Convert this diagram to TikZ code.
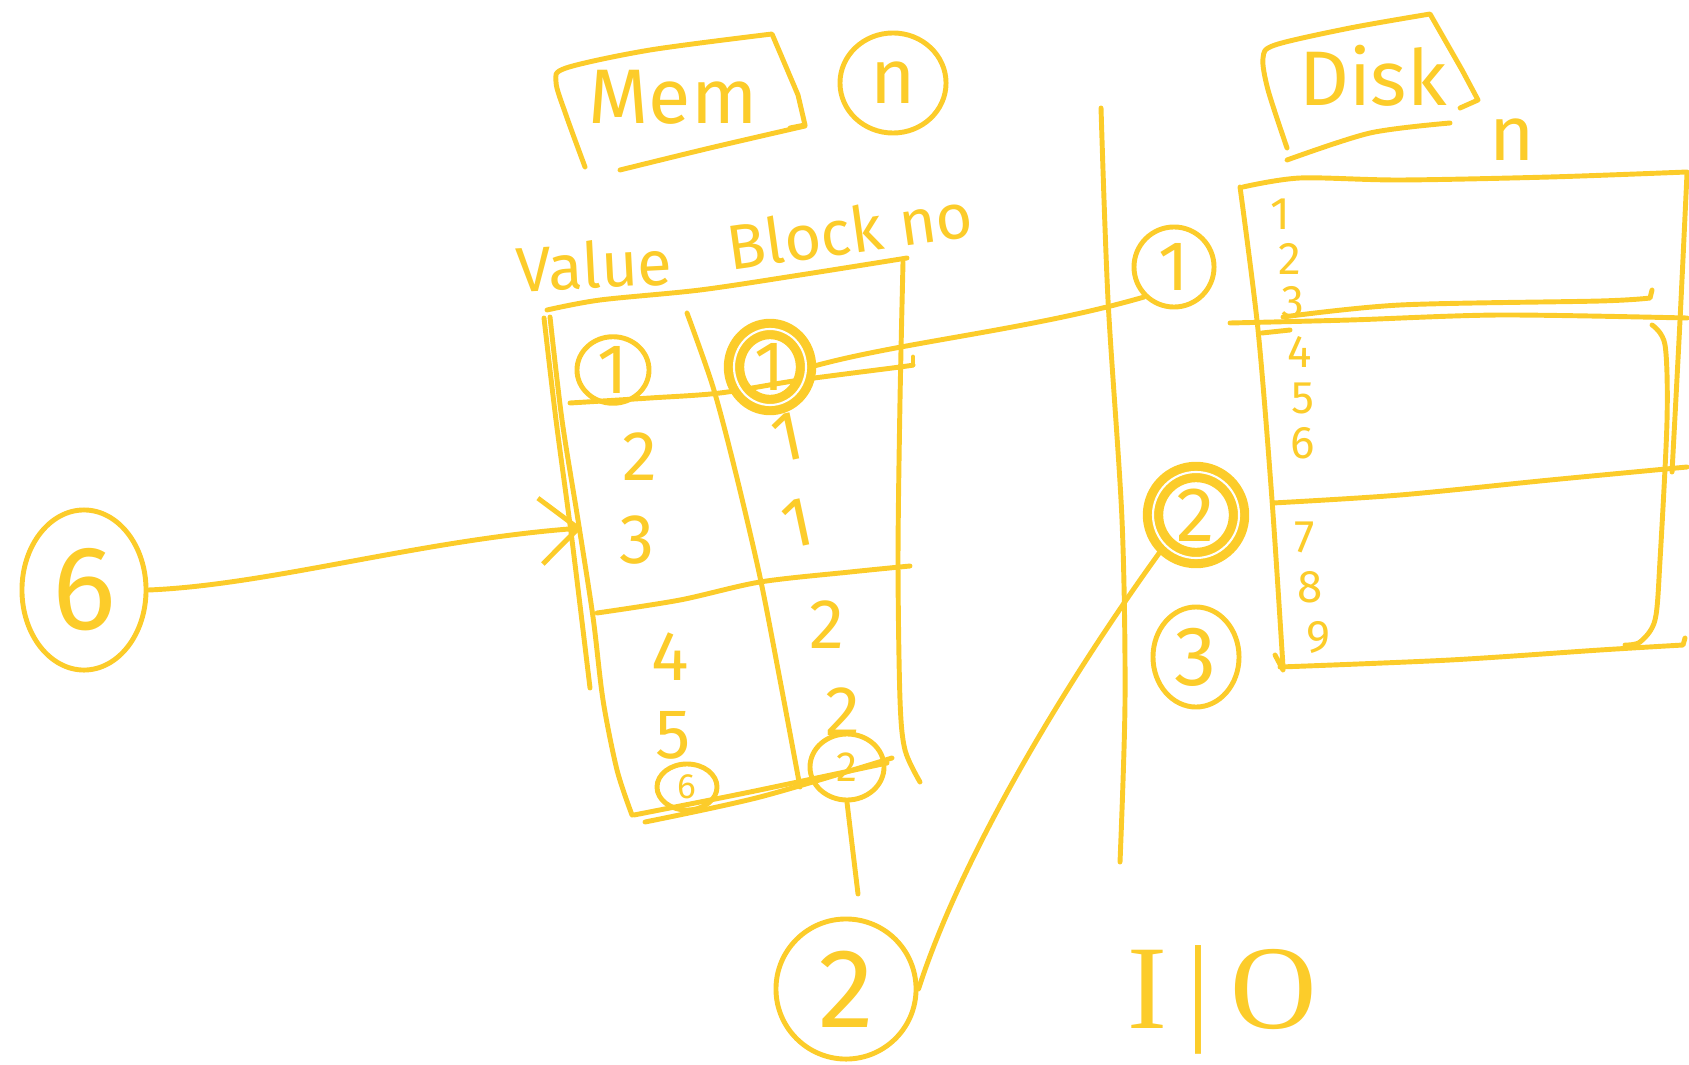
\documentclass[tikz,border=0pt]{standalone}
\usepackage{fontspec}
\setmainfont{Fira Sans}
\newfontfamily\serifio{Liberation Serif}
\usetikzlibrary{shapes.geometric,arrows.meta}
\definecolor{hl}{RGB}{252,204,42}
\begin{document}
\begin{tikzpicture}[x=0.01cm,y=-0.01cm, line cap=round, line join=round,
  ink/.style={draw=hl, line width=1.4pt},
  lbl/.style={text=hl, inner sep=0pt},
  ring/.style={ellipse, draw=hl, line width=1.4pt, inner sep=0pt, text=hl},
  bold ring/.style={ring, line width=2.6pt, double=white, double distance=0.6pt}]
\useasboundingbox (0,0) rectangle (1689,1064);

% ---- Mem label box
\draw[ink] plot[smooth] coordinates {(585,167)(566,115)(556,82)(566,68)(650,50)(772,34)} -- (798,95) -- (805,125) -- (790,128);
\draw[ink] plot[smooth] coordinates {(620,170)(710,148)(805,126)};
\node[lbl, font=\fontsize{22}{24}\selectfont] (mem) at (673,97) {Mem};
\node[ring, minimum width=1.06cm, minimum height=1.0cm, font=\fontsize{22}{24}\selectfont] (nc) at (893,83) {n};

% ---- Disk label box
\draw[ink] plot[smooth] coordinates {(1287,148)(1268,90)(1263,58)(1275,45)(1350,28)(1430,14)} -- (1462,70) -- (1478,100) -- (1460,108);
\draw[ink] plot[smooth] coordinates {(1287,160)(1370,133)(1450,123)};
\node[lbl, font=\fontsize{22}{24}\selectfont] (disk) at (1373,76) {Disk};
\node[lbl, font=\fontsize{22}{24}\selectfont] (dn) at (1512,140) {n};

% ---- column headers
\node[lbl, font=\fontsize{18}{20}\selectfont] (val) at (594,265) {\rotatebox{3}{Value}};
\node[lbl, font=\fontsize{18}{20}\selectfont] (blk) at (850,230) {\rotatebox{8}{Block no}};

% ---- Mem table
\draw[ink] plot[smooth] coordinates {(547,310)(600,300)(700,290)(800,275)(907,258)};
\draw[ink] plot[smooth] coordinates {(550,317)(562,420)(578,520)(593,617)(603,700)(617,770)(632,815)};
\draw[ink] plot[smooth] coordinates {(544,318)(556,420)(572,540)(590,688)};
\draw[ink] plot[smooth] coordinates {(634,815)(750,792)(887,763)};
\draw[ink] plot[smooth] coordinates {(645,822)(760,797)(892,758)};
\draw[ink] plot[smooth] coordinates {(903,262)(900,400)(898,560)(900,700)(905,750)(920,782)};
\draw[ink] plot[smooth] coordinates {(687,313)(713,387)(735,470)(760,577)(780,680)(800,787)};
\draw[ink] plot[smooth] coordinates {(570,403)(650,398)(720,393)(800,380)(900,367)(913,365)};
\draw[ink] (913,365) -- (913,357);
\draw[ink] plot[smooth] coordinates {(597,613)(680,600)(760,582)(850,572)(910,566)};

\node[ring, minimum width=0.72cm, minimum height=0.66cm, font=\fontsize{20}{22}\selectfont] (mc1) at (613,370) {1};
\node[bold ring, minimum width=0.72cm, minimum height=0.76cm, font=\fontsize{20}{22}\selectfont] (mb1) at (770,367) {1};
\node[lbl, font=\fontsize{20}{22}\selectfont] (v2) at (640,457) {2};
\node[lbl, font=\fontsize{20}{22}\selectfont] (v3) at (637,540) {3};
\node[lbl, font=\fontsize{20}{22}\selectfont] (b2) at (787,437) {\rotatebox{12}{1}};
\node[lbl, font=\fontsize{20}{22}\selectfont] (b3) at (797,523) {\rotatebox{12}{1}};
\node[lbl, font=\fontsize{20}{22}\selectfont] (v4) at (670,657) {4};
\node[lbl, font=\fontsize{20}{22}\selectfont] (b4) at (827,625) {2};
\node[lbl, font=\fontsize{20}{22}\selectfont] (v5) at (673,735) {5};
\node[lbl, font=\fontsize{20}{22}\selectfont] (b5) at (843,712) {2};
\node[ring, minimum width=0.6cm, minimum height=0.46cm, font=\fontsize{10}{12}\selectfont] (mc6) at (687,787) {6};
\node[ring, minimum width=0.74cm, minimum height=0.66cm, font=\fontsize{12}{14}\selectfont] (mc2) at (847,767) {2};

% ---- request 6
\node[ring, minimum width=1.24cm, minimum height=1.6cm, font=\fontsize{34}{36}\selectfont] (c6) at (84,590) {6};
\coordinate (tip) at (582,528);
\draw[ink, -{Straight Barb[length=0.38cm, width=0.66cm, line width=1.4pt]}] (c6.east) .. controls (270,585) and (420,540) .. (tip);

% ---- divider
\draw[ink] plot[smooth] coordinates {(1101,108)(1108,300)(1122,520)(1125,700)(1120,862)};

% ---- I/O circles
\node[ring, minimum width=0.8cm, minimum height=0.8cm, font=\fontsize{20}{22}\selectfont] (d1) at (1174,267) {1};
\node[bold ring, minimum width=0.86cm, minimum height=0.86cm, font=\fontsize{22}{24}\selectfont] (d2) at (1196,515) {2};
\node[ring, minimum width=0.86cm, minimum height=1.0cm, font=\fontsize{24}{26}\selectfont] (d3) at (1196,657) {3};
\node[ring, minimum width=1.4cm, minimum height=1.4cm, font=\fontsize{32}{34}\selectfont] (bc2) at (846,989) {2};
\node[lbl, font=\serifio\fontsize{34}{36}\selectfont] (io) at (1222,1000) {I\,|\,O};

\draw[ink] (mb1.east) .. controls (900,342) and (1030,330) .. (d1.south west);
\draw[ink] (d2.south west) .. controls (1060,690) and (960,860) .. (bc2.east);
\coordinate (stem) at (858,894);
\draw[ink] (mc2.south) -- (stem);

% ---- Disk table
\draw[ink] plot[smooth] coordinates {(1243,187)(1300,178)(1400,180)(1550,177)(1687,172)};
\draw[ink] plot[smooth] coordinates {(1240,187)(1258,330)(1272,500)(1283,667)};
\draw[ink] (1275,655) -- (1283,670);
\draw[ink] plot[smooth] coordinates {(1687,173)(1680,320)(1672,472)};
\draw[ink] plot[smooth] coordinates {(1283,317)(1400,305)(1600,301)(1650,298)} -- (1652,290);
\draw[ink] plot[smooth] coordinates {(1230,323)(1350,320)(1500,315)(1687,318)};
\draw[ink] (1262,333) -- (1290,330);
\draw[ink] plot[smooth] coordinates {(1273,503)(1400,495)(1550,480)(1687,467)};
\draw[ink] plot[smooth] coordinates {(1280,667)(1450,660)(1600,650)(1683,645)} -- (1685,638);
\draw[ink] plot[smooth] coordinates {(1652,325)(1665,345)(1667,420)(1660,560)(1655,620)(1640,642)(1625,645)};

\foreach \t/\x/\y in {1/1280/214, 2/1290/259, 3/1293/302, 4/1300/352, 5/1303/398, 6/1303/443, 7/1305/537, 8/1310/587, 9/1318/637}
  \node[lbl, font=\fontsize{13}{15}\selectfont] (dk\t) at (\x,\y) {\t};
\end{tikzpicture}
\end{document}
